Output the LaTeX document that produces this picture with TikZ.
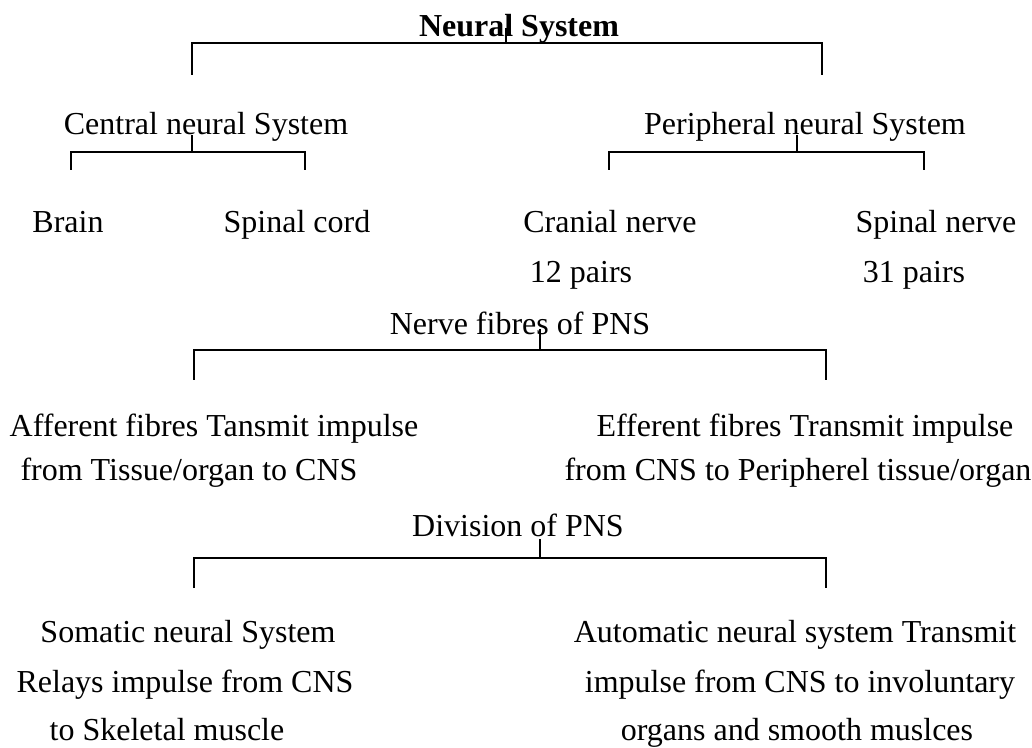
\documentclass[tikz,border=0pt]{standalone}
\usepackage{fontspec}
\setmainfont{Liberation Serif}
\usepackage{tikz}
\usetikzlibrary{positioning,calc}
\newcommand{\fsz}{\fontsize{24}{28}\selectfont}

\begin{document}
\begin{tikzpicture}[x=0.75pt, y=-0.75pt,
    lbl/.style={anchor=base, inner sep=0pt, font=\fsz},
    fork/.style={line width=1.6pt, line cap=butt}]
    \useasboundingbox (0,0) rectangle (1032,748);

    % headings and leaves
    \node[lbl, font=\fsz\bfseries] (ns) at (519,37) {Neural System};
    \node[lbl] (cns) at (206,135) {Central neural System};
    \node[lbl] (pns) at (805,135) {Peripheral neural System};
    \node[lbl] (brain) at (68,233) {Brain};
    \node[lbl] (cord) at (297,233) {Spinal cord};
    \node[lbl] (cranial) at (610,233) {Cranial nerve};
    \node[lbl] (cranialp) at (581,283) {12 pairs};
    \node[lbl] (spinal) at (936,233) {Spinal nerve};
    \node[lbl] (spinalp) at (914,283) {31 pairs};

    \node[lbl] (fibres) at (520,335) {Nerve fibres of PNS};
    \node[lbl] (aff1) at (214,437) {Afferent fibres Tansmit impulse};
    \node[lbl] (aff2) at (189,480) {from Tissue/organ to CNS};
    \node[lbl] (eff1) at (805,437) {Efferent fibres Transmit impulse};
    \node[lbl] (eff2) at (798,480) {from CNS to Peripherel tissue/organ};

    \node[lbl] (div) at (518,537) {Division of PNS};
    \node[lbl] (som1) at (188,642) {Somatic neural System};
    \node[lbl] (som2) at (185,692) {Relays impulse from CNS};
    \node[lbl] (som3) at (167,740) {to Skeletal muscle};
    \node[lbl] (aut1) at (795,642) {Automatic neural system Transmit};
    \node[lbl] (aut2) at (800,692) {impulse from CNS to involuntary};
    \node[lbl] (aut3) at (797,740) {organs and smooth muslces};

    % fork junctions and drop ends
    \coordinate (nsT) at (506,28);  \coordinate (nsJ) at (506,43);
    \coordinate (nsL) at (192,75);  \coordinate (nsR) at (822,75);
    \coordinate (cnsT) at (192,135); \coordinate (cnsJ) at (192,152);
    \coordinate (cnsL) at (71,170);  \coordinate (cnsR) at (305,170);
    \coordinate (pnsT) at (797,135); \coordinate (pnsJ) at (797,152);
    \coordinate (pnsL) at (609,170); \coordinate (pnsR) at (924,170);
    \coordinate (fibT) at (540,329); \coordinate (fibJ) at (540,350);
    \coordinate (fibL) at (194,380); \coordinate (fibR) at (826,380);
    \coordinate (divT) at (540,539); \coordinate (divJ) at (540,558);
    \coordinate (divL) at (194,588); \coordinate (divR) at (826,588);

    % forks
    \draw[fork] (nsT) -- (nsJ);
    \draw[fork] (nsL) |- (nsJ) -| (nsR);
    \draw[fork] (cnsT) -- (cnsJ);
    \draw[fork] (cnsL) |- (cnsJ) -| (cnsR);
    \draw[fork] (pnsT) -- (pnsJ);
    \draw[fork] (pnsL) |- (pnsJ) -| (pnsR);
    \draw[fork] (fibT) -- (fibJ);
    \draw[fork] (fibL) |- (fibJ) -| (fibR);
    \draw[fork] (divT) -- (divJ);
    \draw[fork] (divL) |- (divJ) -| (divR);
\end{tikzpicture}
\end{document}
